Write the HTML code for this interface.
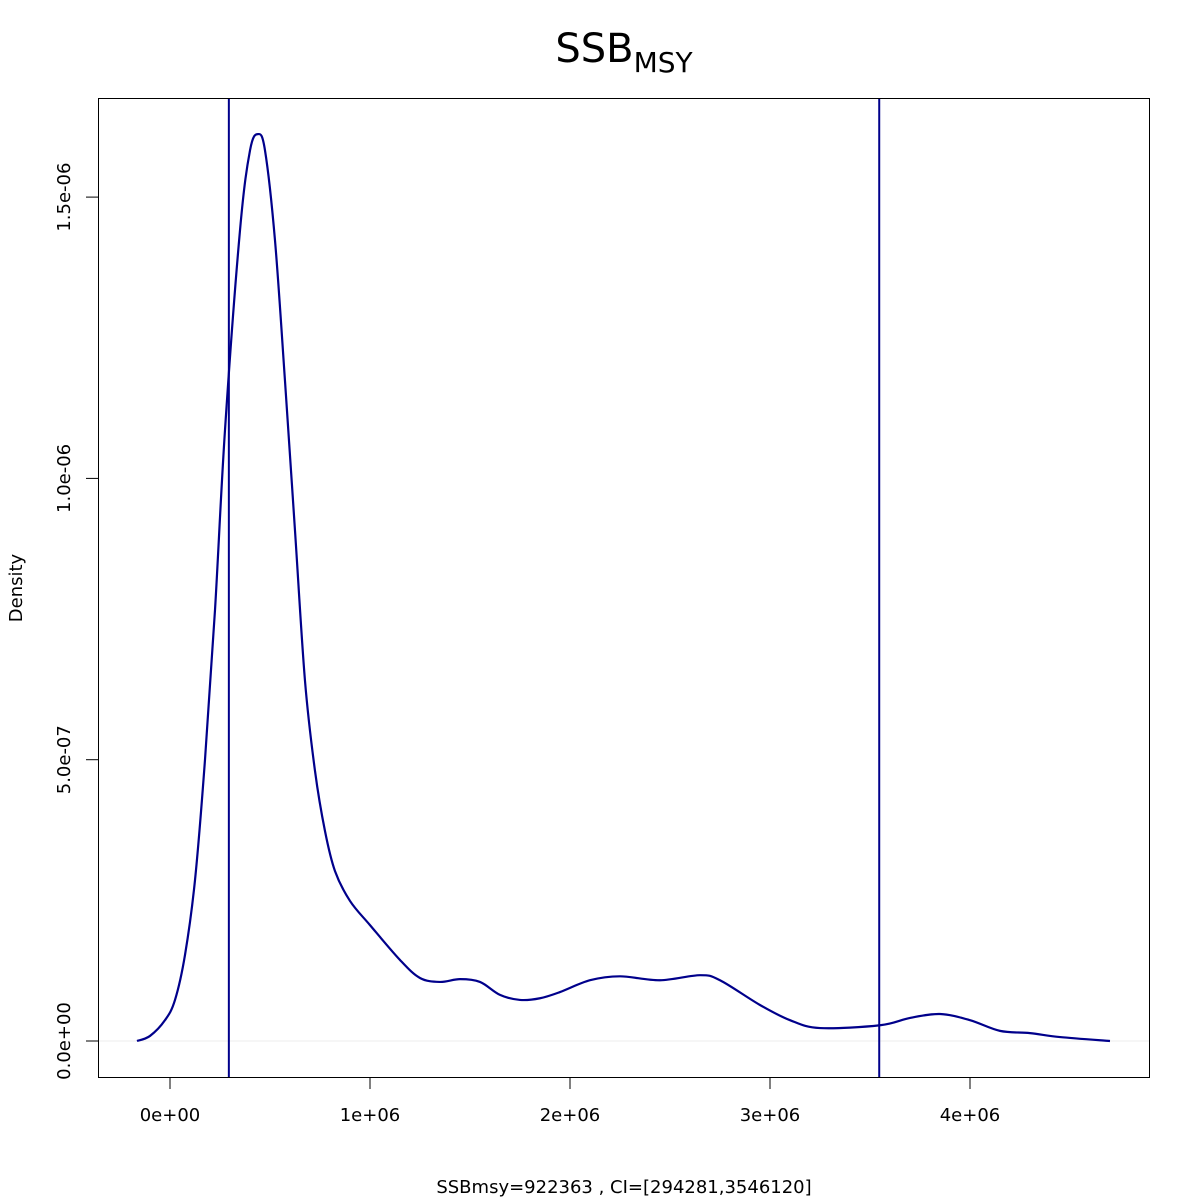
<!DOCTYPE html>
<html><head><meta charset="utf-8"><style>
html,body{margin:0;padding:0;background:#fff;}
svg{display:block;font-family:"DejaVu Sans","Liberation Sans",sans-serif;}
</style></head><body>
<svg id="chart" width="1200" height="1200" viewBox="0 0 1200 1200">
<text x="624" y="62" font-size="40" text-anchor="middle">SSB<tspan font-size="28" dy="10">MSY</tspan></text>
<rect x="98.5" y="98.5" width="1051" height="979" fill="none" stroke="#000" stroke-width="1"/>
<g id="xaxis"></g>
<g id="yaxis"></g>
<g id="marks"></g>
<text x="624" y="1193" font-size="18" text-anchor="middle">SSBmsy=922363 , CI=[294281,3546120]</text>
<text x="22" y="588" font-size="18" text-anchor="middle" transform="rotate(-90 22 588)">Density</text>
</svg>
<script>
const xValues=[-0.165,-0.1,-0.025,0.025,0.075,0.125,0.175,0.225,0.275,0.35,0.4,0.44,0.475,0.525,0.575,0.625,0.675,0.725,0.775,0.825,0.9,1.0,1.15,1.25,1.35,1.45,1.55,1.65,1.75,1.85,1.95,2.1,2.25,2.45,2.65,2.75,2.95,3.1,3.25,3.55,3.7,3.85,4.0,4.15,4.3,4.45,4.7];
const densityValues=[0,0.009,0.037,0.073,0.153,0.286,0.5,0.766,1.086,1.441,1.583,1.612,1.583,1.423,1.173,0.907,0.64,0.48,0.373,0.302,0.249,0.206,0.144,0.112,0.105,0.11,0.105,0.082,0.073,0.076,0.087,0.108,0.115,0.108,0.117,0.108,0.064,0.037,0.023,0.028,0.041,0.048,0.037,0.018,0.014,0.007,0];
const ciBounds=[0.294281,3.546120];
const xTicks=[0,1,2,3,4];
const xTickLabels=["0e+00","1e+06","2e+06","3e+06","4e+06"];
const yTicks=[0,0.5,1.0,1.5];
const yTickLabels=["0.0e+00","5.0e-07","1.0e-06","1.5e-06"];

const NS="http://www.w3.org/2000/svg";
const sx=v=>170+v*200;           // x in millions
const sy=v=>1041-v*562.6;        // density in 1e-6
function mk(tag,attrs,parent){const e=document.createElementNS(NS,tag);for(const k in attrs)e.setAttribute(k,attrs[k]);parent.appendChild(e);return e;}
const xg=document.getElementById('xaxis'),yg=document.getElementById('yaxis'),mg=document.getElementById('marks');
xTicks.forEach((t,i)=>{
  const l=mk('line',{x1:sx(t),x2:sx(t),y1:1077,y2:1089,stroke:'#000'},xg);
  
  
  const tx=mk('text',{x:sx(t),y:1121,'font-size':18,'text-anchor':'middle'},xg);
  tx.textContent=xTickLabels[i];
  
  
});
yTicks.forEach((t,i)=>{
  const l=mk('line',{x1:86,x2:98,y1:sy(t),y2:sy(t),stroke:'#000'},yg);
  
  
  const tx=mk('text',{x:70,y:sy(t),'font-size':18,'text-anchor':'middle',transform:`rotate(-90 70 ${sy(t)})`},yg);
  tx.textContent=yTickLabels[i];
  
  
});
const zl=mk('line',{x1:99,x2:1149,y1:sy(0),y2:sy(0),stroke:'#eeeeee','stroke-width':1},mg);


// smooth path via catmull-rom
const pts=xValues.map((x,i)=>[sx(x),sy(densityValues[i])]);
let d=`M${pts[0][0]},${pts[0][1]}`;
for(let i=0;i<pts.length-1;i++){
  const p0=pts[Math.max(0,i-1)],p1=pts[i],p2=pts[i+1],p3=pts[Math.min(pts.length-1,i+2)];
  const c1=[p1[0]+(p2[0]-p0[0])/6,p1[1]+(p2[1]-p0[1])/6],c2=[p2[0]-(p3[0]-p1[0])/6,p2[1]-(p3[1]-p1[1])/6];
  d+=` C${c1[0]},${c1[1]} ${c2[0]},${c2[1]} ${p2[0]},${p2[1]}`;
}
const path=mk('path',{d:d,fill:'none',stroke:'#00008b','stroke-width':2.2},mg);


ciBounds.forEach(b=>{
  const l=mk('line',{x1:sx(b),x2:sx(b),y1:99,y2:1077,stroke:'#00008b','stroke-width':2},mg);
  
  
});
</script>
</body></html>
